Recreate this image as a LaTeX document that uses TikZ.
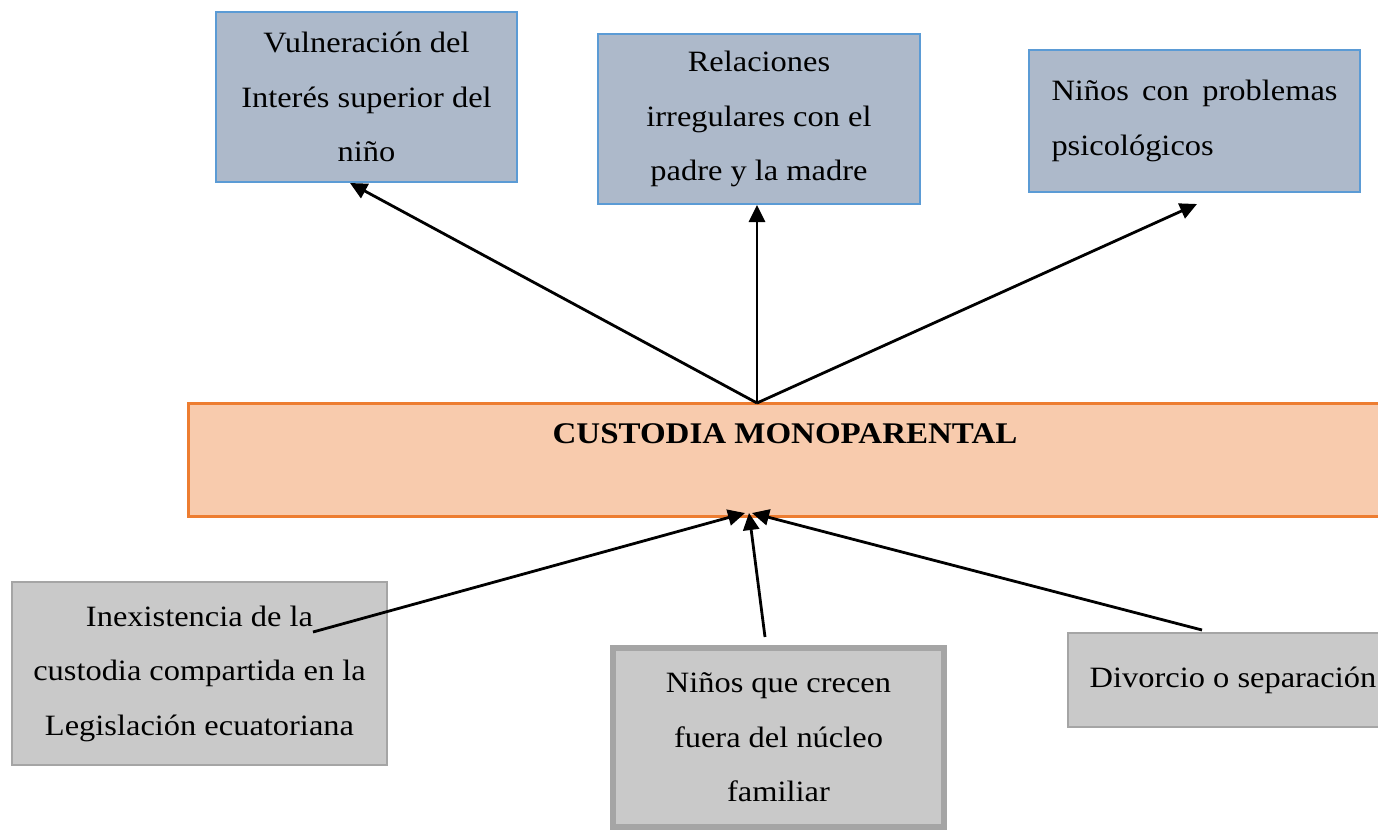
\documentclass[tikz,border=0pt]{standalone}
\usepackage{fontspec}
\setmainfont{Liberation Serif}[FakeStretch=1.1]
\usetikzlibrary{arrows.meta}
\definecolor{topfill}{HTML}{ADB9CA}
\definecolor{topline}{HTML}{5B9BD5}
\definecolor{cfill}{HTML}{F8CBAD}
\definecolor{cline}{HTML}{ED7D31}
\definecolor{gfill}{HTML}{C9C9C9}
\definecolor{gline}{HTML}{A5A5A5}
\begin{document}
\begin{tikzpicture}[x=1pt,y=-1pt,
  txt/.style={font=\fontsize{29.5}{54.5}\selectfont},
  topbox/.style={txt, draw=topline, fill=topfill, line width=2.5pt, inner sep=0pt, align=center},
  cbox/.style={draw=cline, fill=cfill, line width=3pt, inner sep=0pt},
  gbox/.style={txt, draw=gline, fill=gfill, line width=2.5pt, inner sep=0pt, align=center},
  arr/.style={line width=2.8pt, -{Triangle[length=17pt,width=16pt]}}]
\useasboundingbox (0,0) rectangle (1378,831);
% top boxes
\node[topbox, minimum width=301pt, minimum height=170pt] (A) at (366.5,97)
  {Vulneración del\\Interés superior del\\niño};
\node[topbox, minimum width=322pt, minimum height=170pt] (B) at (759,119)
  {Relaciones\\irregulares con el\\padre y la madre};
\node[topbox, minimum width=331pt, minimum height=142pt, align=left] (C) at (1194.5,121)
  {\makebox[286pt][s]{Niños con problemas}\\psicológicos};
% central box
\node[cbox, minimum width=1210pt, minimum height=113pt] (M) at (793,459.5) {};
\node[txt, font=\fontsize{30}{54.5}\selectfont\bfseries, inner sep=0pt] (Mt) at (785,434) {CUSTODIA MONOPARENTAL};
% bottom boxes
\node[gbox, minimum width=375pt, minimum height=183pt] (D) at (199.5,673.5)
  {Inexistencia de la\\custodia compartida en la\\Legislación ecuatoriana};
\node[gbox, line width=6pt, minimum width=331pt, minimum height=179pt] (E) at (778.5,737.5)
  {Niños que crecen\\fuera del núcleo\\familiar};
\node[gbox, minimum width=330pt, minimum height=94pt] (F) at (1233,680)
  {Divorcio o separación};
% connector end points
\coordinate (mT) at (757,403);
\coordinate (tA) at (350,183);
\coordinate (tB) at (757,205);
\coordinate (tC) at (1197,204);
\coordinate (bD) at (745,513);
\coordinate (bE) at (749,513);
\coordinate (bF) at (752,513);
\coordinate (sD) at (313,632);
\coordinate (sE) at (765,637);
\coordinate (sF) at (1202,630);
\draw[arr] (mT) -- (tA);
\draw[arr] (mT) -- (tB);
\draw[arr] (mT) -- (tC);
\draw[arr] (sD) -- (bD);
\draw[arr] (sE) -- (bE);
\draw[arr] (sF) -- (bF);
\end{tikzpicture}
\end{document}
